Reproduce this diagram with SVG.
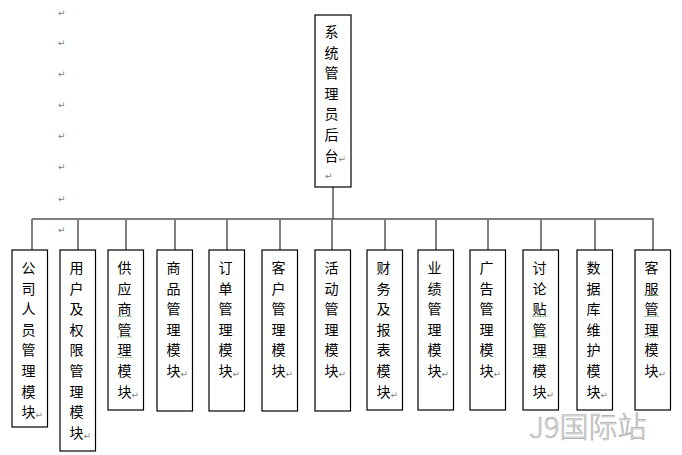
<svg xmlns="http://www.w3.org/2000/svg" width="682" height="455" viewBox="0 0 682 455">
<style>
.box{fill:#fff;stroke:#000;stroke-width:1.2}
.t{font-family:"Noto Sans CJK SC","Noto Sans",sans-serif;font-size:14px;fill:#000}
.r{font-family:"DejaVu Sans",sans-serif;font-size:9px;fill:#808080}
.br{stroke:#808080;stroke-width:2;fill:none}
.bus{stroke:#000;stroke-width:1.2;fill:none}
.wv{stroke:#3a9a3a;stroke-width:0.8;fill:none;stroke-dasharray:1.5 1}
.wm{font-family:"Noto Sans CJK SC","Noto Sans",sans-serif;font-size:29px;font-weight:300;fill:#e4e4e4;stroke:#a8a8a8;stroke-width:0.6}
</style>
<rect width="682" height="455" fill="#fff"/>
<g id="marks">
<text class="r" x="58" y="16">↵</text>
<text class="r" x="58" y="46">↵</text>
<text class="r" x="58" y="77">↵</text>
<text class="r" x="58" y="108">↵</text>
<text class="r" x="58" y="139">↵</text>
<text class="r" x="58" y="170">↵</text>
<text class="r" x="58" y="202">↵</text>
<text class="r" x="58" y="233">↵</text>
</g>
<g id="connectors">
<line class="br" x1="333" y1="187" x2="333" y2="219"/>
<line class="bus" x1="32" y1="219" x2="654" y2="219"/>
<line class="br" x1="32" y1="219" x2="32" y2="250"/>
<line class="br" x1="78" y1="219" x2="78" y2="250"/>
<line class="br" x1="126" y1="219" x2="126" y2="250"/>
<line class="br" x1="175" y1="219" x2="175" y2="250"/>
<line class="br" x1="227" y1="219" x2="227" y2="250"/>
<line class="br" x1="280" y1="219" x2="280" y2="250"/>
<line class="br" x1="332" y1="219" x2="332" y2="250"/>
<line class="br" x1="385" y1="219" x2="385" y2="250"/>
<line class="br" x1="436" y1="219" x2="436" y2="250"/>
<line class="br" x1="488" y1="219" x2="488" y2="250"/>
<line class="br" x1="541" y1="219" x2="541" y2="250"/>
<line class="br" x1="595" y1="219" x2="595" y2="250"/>
<line class="br" x1="653" y1="219" x2="653" y2="250"/>
</g>
<g id="root">
<rect class="box" x="315" y="15" width="36" height="172"/>
<text class="t"><tspan x="324.5" y="37">系</tspan><tspan x="324.5" dy="20.6">统</tspan><tspan x="324.5" dy="20.6">管</tspan><tspan x="324.5" dy="20.6">理</tspan><tspan x="324.5" dy="20.6">员</tspan><tspan x="324.5" dy="20.6">后</tspan><tspan x="324.5" dy="20.6">台</tspan><tspan class="r" dy="1">↵</tspan></text>
<text class="r" x="325" y="179">↵</text>
</g>
<g id="n1">
<rect class="box" x="12" y="250" width="35.5" height="177"/>
<text class="t"><tspan x="21.5" y="273">公</tspan><tspan x="21.5" dy="20.6">司</tspan><tspan x="21.5" dy="20.6">人</tspan><tspan x="21.5" dy="20.6">员</tspan><tspan x="21.5" dy="20.6">管</tspan><tspan x="21.5" dy="20.6">理</tspan><tspan x="21.5" dy="20.6">模</tspan><tspan x="21.5" dy="20.6">块</tspan><tspan class="r" dy="1">↵</tspan></text>
</g>
<g id="n2">
<rect class="box" x="60" y="250" width="35.5" height="201"/>
<text class="t"><tspan x="69.5" y="273">用</tspan><tspan x="69.5" dy="20.6">户</tspan><tspan x="69.5" dy="20.6">及</tspan><tspan x="69.5" dy="20.6">权</tspan><tspan x="69.5" dy="20.6">限</tspan><tspan x="69.5" dy="20.6">管</tspan><tspan x="69.5" dy="20.6">理</tspan><tspan x="69.5" dy="20.6">模</tspan><tspan x="69.5" dy="20.6">块</tspan><tspan class="r" dy="1">↵</tspan></text>
</g>
<g id="n3">
<rect class="box" x="108" y="250" width="35.5" height="160"/>
<text class="t"><tspan x="117.5" y="273">供</tspan><tspan x="117.5" dy="20.6">应</tspan><tspan x="117.5" dy="20.6">商</tspan><tspan x="117.5" dy="20.6">管</tspan><tspan x="117.5" dy="20.6">理</tspan><tspan x="117.5" dy="20.6">模</tspan><tspan x="117.5" dy="20.6">块</tspan><tspan class="r" dy="1">↵</tspan></text>
<path class="wv" d="M117.5 316.5h14M117.5 337h14M117.5 357.5h14"/>
</g>
<g id="n4">
<rect class="box" x="157" y="250" width="35.5" height="161"/>
<text class="t"><tspan x="166.5" y="273">商</tspan><tspan x="166.5" dy="20.6">品</tspan><tspan x="166.5" dy="20.6">管</tspan><tspan x="166.5" dy="20.6">理</tspan><tspan x="166.5" dy="20.6">模</tspan><tspan x="166.5" dy="20.6">块</tspan><tspan class="r" dy="1">↵</tspan></text>
</g>
<g id="n5">
<rect class="box" x="209" y="250" width="35.5" height="161"/>
<text class="t"><tspan x="218.5" y="273">订</tspan><tspan x="218.5" dy="20.6">单</tspan><tspan x="218.5" dy="20.6">管</tspan><tspan x="218.5" dy="20.6">理</tspan><tspan x="218.5" dy="20.6">模</tspan><tspan x="218.5" dy="20.6">块</tspan><tspan class="r" dy="1">↵</tspan></text>
</g>
<g id="n6">
<rect class="box" x="262" y="250" width="35.5" height="161"/>
<text class="t"><tspan x="271.5" y="273">客</tspan><tspan x="271.5" dy="20.6">户</tspan><tspan x="271.5" dy="20.6">管</tspan><tspan x="271.5" dy="20.6">理</tspan><tspan x="271.5" dy="20.6">模</tspan><tspan x="271.5" dy="20.6">块</tspan><tspan class="r" dy="1">↵</tspan></text>
</g>
<g id="n7">
<rect class="box" x="315" y="250" width="35.5" height="161"/>
<text class="t"><tspan x="324.5" y="273">活</tspan><tspan x="324.5" dy="20.6">动</tspan><tspan x="324.5" dy="20.6">管</tspan><tspan x="324.5" dy="20.6">理</tspan><tspan x="324.5" dy="20.6">模</tspan><tspan x="324.5" dy="20.6">块</tspan><tspan class="r" dy="1">↵</tspan></text>
</g>
<g id="n8">
<rect class="box" x="367" y="250" width="35.5" height="160"/>
<text class="t"><tspan x="376.5" y="273">财</tspan><tspan x="376.5" dy="20.6">务</tspan><tspan x="376.5" dy="20.6">及</tspan><tspan x="376.5" dy="20.6">报</tspan><tspan x="376.5" dy="20.6">表</tspan><tspan x="376.5" dy="20.6">模</tspan><tspan x="376.5" dy="20.6">块</tspan><tspan class="r" dy="1">↵</tspan></text>
</g>
<g id="n9">
<rect class="box" x="418" y="250" width="35.5" height="160"/>
<text class="t"><tspan x="427.5" y="273">业</tspan><tspan x="427.5" dy="20.6">绩</tspan><tspan x="427.5" dy="20.6">管</tspan><tspan x="427.5" dy="20.6">理</tspan><tspan x="427.5" dy="20.6">模</tspan><tspan x="427.5" dy="20.6">块</tspan><tspan class="r" dy="1">↵</tspan></text>
</g>
<g id="n10">
<rect class="box" x="470" y="250" width="35.5" height="160"/>
<text class="t"><tspan x="479.5" y="273">广</tspan><tspan x="479.5" dy="20.6">告</tspan><tspan x="479.5" dy="20.6">管</tspan><tspan x="479.5" dy="20.6">理</tspan><tspan x="479.5" dy="20.6">模</tspan><tspan x="479.5" dy="20.6">块</tspan><tspan class="r" dy="1">↵</tspan></text>
</g>
<g id="n11">
<rect class="box" x="523" y="250" width="35.5" height="160"/>
<text class="t"><tspan x="532.5" y="273">讨</tspan><tspan x="532.5" dy="20.6">论</tspan><tspan x="532.5" dy="20.6">贴</tspan><tspan x="532.5" dy="20.6">管</tspan><tspan x="532.5" dy="20.6">理</tspan><tspan x="532.5" dy="20.6">模</tspan><tspan x="532.5" dy="20.6">块</tspan><tspan class="r" dy="1">↵</tspan></text>
<path class="wv" d="M532.5 316.5h14M532.5 337h14M532.5 357.5h14"/>
</g>
<g id="n12">
<rect class="box" x="577" y="250" width="35.5" height="160"/>
<text class="t"><tspan x="586.5" y="273">数</tspan><tspan x="586.5" dy="20.6">据</tspan><tspan x="586.5" dy="20.6">库</tspan><tspan x="586.5" dy="20.6">维</tspan><tspan x="586.5" dy="20.6">护</tspan><tspan x="586.5" dy="20.6">模</tspan><tspan x="586.5" dy="20.6">块</tspan><tspan class="r" dy="1">↵</tspan></text>
</g>
<g id="n13">
<rect class="box" x="635" y="250" width="35.5" height="160"/>
<text class="t"><tspan x="644.5" y="273">客</tspan><tspan x="644.5" dy="20.6">服</tspan><tspan x="644.5" dy="20.6">管</tspan><tspan x="644.5" dy="20.6">理</tspan><tspan x="644.5" dy="20.6">模</tspan><tspan x="644.5" dy="20.6">块</tspan><tspan class="r" dy="1">↵</tspan></text>
<path class="wv" d="M644.5 295.5h14M644.5 316.5h14M644.5 337h14"/>
</g>
<text class="wm" x="529" y="438">J9国际站</text>
</svg>
